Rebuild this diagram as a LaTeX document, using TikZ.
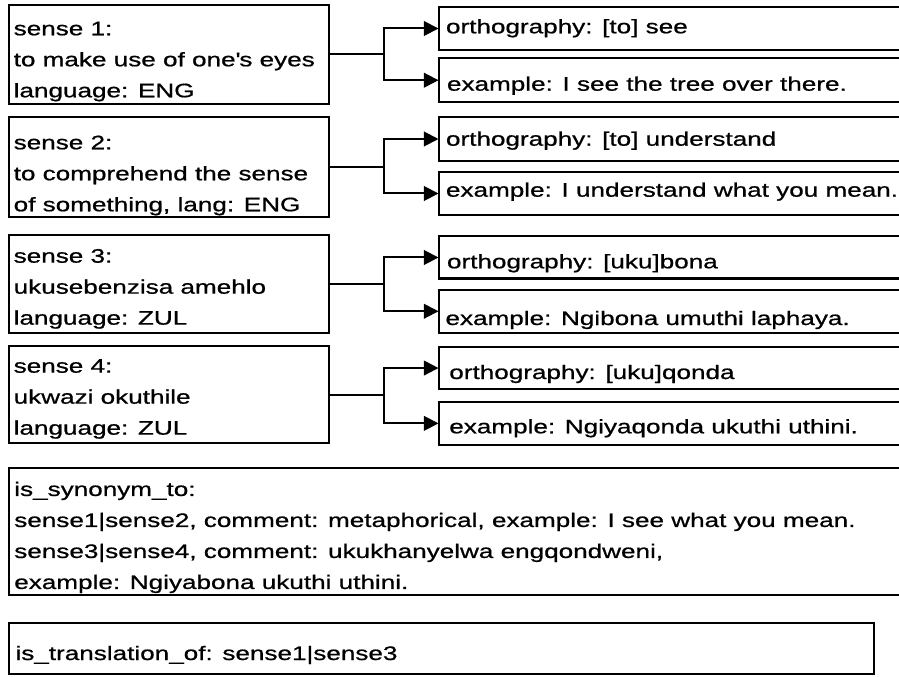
\documentclass[tikz,border=0pt]{standalone}
\usepackage{fontspec}
\setmainfont{Liberation Sans}[FakeStretch=1.335,FakeBold=0.8]
\usetikzlibrary{arrows.meta}

\tikzset{every picture/.style={line width=1.5pt}}
\tikzset{
  box/.style={draw, rectangle, inner sep=0pt, outer sep=0pt, anchor=north west},
  txt/.style={inner sep=0pt, align=left, font=\fontsize{14.66pt}{23.25pt}\selectfont},
  link/.style={-{Triangle[length=11pt,width=11pt]}}
}
\newcommand{\tstrut}{\rule{0pt}{11pt}}

\begin{document}
\begin{tikzpicture}[x=0.75pt,y=0.75pt,yscale=-1,xscale=1]
\useasboundingbox (0,0) rectangle (899,677);

%Shape: Rectangle - senses
\node [box, minimum width=240pt, minimum height=74.25pt] (s1) at (8.5,5) {};
\node [box, minimum width=240pt, minimum height=75pt] (s2) at (8.5,117) {};
\node [box, minimum width=240pt, minimum height=73.5pt] (s3) at (8.5,235) {};
\node [box, minimum width=240pt, minimum height=72.75pt] (s4) at (8.5,346) {};

%Shape: Rectangle - orthography / example
\node [box, minimum width=352.5pt, minimum height=32.25pt] (o1) at (438.5,7) {};
\node [box, minimum width=352.5pt, minimum height=32.6pt] (e1) at (438.5,58.5) {};
\node [box, minimum width=352.5pt, minimum height=33pt] (o2) at (438.5,117) {};
\node [box, minimum width=352.5pt, minimum height=32.25pt] (e2) at (438.5,172) {};
\node [box, minimum width=352.5pt, minimum height=31.5pt] (o3) at (438.5,236.5) {};
\node [box, minimum width=352.5pt, minimum height=31.9pt] (e3) at (438.5,290) {};
\node [box, minimum width=352.5pt, minimum height=32pt] (o4) at (438.5,346.7) {};
\node [box, minimum width=352.5pt, minimum height=32.5pt] (e4) at (438.5,401.7) {};

%Shape: Rectangle - relations
\node [box, minimum width=675pt, minimum height=95.6pt] (syn) at (8.5,468) {};
\node [box, minimum width=649pt, minimum height=38.25pt] (trans) at (8.5,623) {};

%Straight Lines
\draw [link] (s1.east) -- ++(55,0) |- (o1.west);
\draw [link] (s1.east) -- ++(55,0) |- (e1.west);
\draw [link] (s2.east) -- ++(55,0) |- (o2.west);
\draw [link] (s2.east) -- ++(55,0) |- (e2.west);
\draw [link] (s3.east) -- ++(55,0) |- (o3.west);
\draw [link] (s3.east) -- ++(55,0) |- (e3.west);
\draw [link] (s4.east) -- ++(55,0) |- (o4.west);
\draw [link] (s4.east) -- ++(55,0) |- (e4.west);

% Text Node
\draw (12.7,19.6) node (s1t) [txt, anchor=north west] {\tstrut sense 1:\\to make use of one\textquotesingle s eyes\\language: ENG};
% Text Node
\draw (12.7,133.6) node (s2t) [txt, anchor=north west] {\tstrut sense 2:\\to comprehend the sense\\of something, lang: ENG};
% Text Node
\draw (12.7,247) node (s3t) [txt, anchor=north west] {\tstrut sense 3:\\ukusebenzisa amehlo\\language: ZUL};
% Text Node
\draw (12.7,357) node (s4t) [txt, anchor=north west] {\tstrut sense 4:\\ukwazi okuthile\\language: ZUL};

% Text Node
\draw (445,33.3) node (o1t) [txt, anchor=base west] {orthography: [to] see};
% Text Node
\draw (446,90.7) node (e1t) [txt, anchor=base west] {example: I see the tree over there.};
% Text Node
\draw (445,145.7) node (o2t) [txt, anchor=base west] {orthography: [to] understand};
% Text Node
\draw (445,196.7) node (e2t) [txt, anchor=base west] {example: I understand what you mean.};
% Text Node
\draw (446,268.3) node (o3t) [txt, anchor=base west] {orthography: [uku]bona};
% Text Node
\draw (444.5,325) node (e3t) [txt, anchor=base west] {example: Ngibona umuthi laphaya.};
% Text Node
\draw (448.3,379) node (o4t) [txt, anchor=base west] {orthography: [uku]qonda};
% Text Node
\draw (448.3,433.3) node (e4t) [txt, anchor=base west] {example: Ngiyaqonda ukuthi uthini.};

% Text Node
\draw (13.3,480.3) node (synt) [txt, anchor=north west] {\tstrut is\_synonym\_to:\\sense1|sense2, comment: metaphorical, example: I see what you mean.\\sense3|sense4, comment: ukukhanyelwa engqondweni,\\example: Ngiyabona ukuthi uthini.};
% Text Node
\draw (14.5,660) node (transt) [txt, anchor=base west] {is\_translation\_of: sense1|sense3};

\end{tikzpicture}
\end{document}
